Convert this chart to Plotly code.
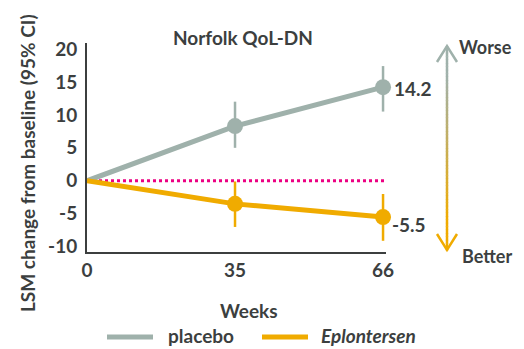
import plotly.graph_objects as go

# ---- data ----
weeks = ["0", "35", "66"]
placebo = [0, 8.3, 14.2]
placebo_hi = [0, 12.0, 17.4]
placebo_lo = [0, 5.0, 10.5]
eplon = [0, -3.5, -5.5]
eplon_hi = [0, -0.1, -2.0]
eplon_lo = [0, -7.0, -9.1]
y_ticks = [20, 15, 10, 5, 0, -5, -10]

GREY = "#9fb1ab"
GOLD = "#f0ab00"
MAG = "#ec0082"
DARK = "#3c3f3f"
FONT = "Lato"
FS = 19

OFF = 8  # page body margin
W, H = 524 - OFF, 349 - OFF
# screen-pixel plot box
SL, SR, ST, SB = 87, 386, 43, 252
L, R, T, B = SL - OFF, SR - OFF, ST - OFF, SB - OFF


def px(x):
    return (x - SL) / (SR - SL)


def py(y):
    return (SB - y) / (SB - ST)


xi = list(range(len(weeks)))

fig = go.Figure()

# reference dotted line at 0
fig.add_trace(go.Scatter(x=[xi[0], 2.02], y=[0, 0], mode="lines",
                         line=dict(color=MAG, width=3, dash="3px,3px"),
                         showlegend=False, hoverinfo="skip", cliponaxis=False))


def series(vals, hi, lo, color, name):
    fig.add_trace(go.Scatter(x=xi, y=vals, mode="lines", line=dict(color=color, width=5),
                             name=name, showlegend=False, cliponaxis=False))
    fig.add_trace(go.Scatter(
        x=xi[1:], y=vals[1:], mode="markers",
        marker=dict(color=color, size=16),
        error_y=dict(type="data", symmetric=False,
                     array=[h - v for h, v in zip(hi[1:], vals[1:])],
                     arrayminus=[v - l for l, v in zip(lo[1:], vals[1:])],
                     color=color, thickness=2.5, width=0),
        showlegend=False, cliponaxis=False))


series(placebo, placebo_hi, placebo_lo, GREY, "placebo")
series(eplon, eplon_hi, eplon_lo, GOLD, "Eplontersen")


def txt(x, y, s, anchor="center", size=FS, **kw):
    d = dict(x=px(x), y=py(y), text=s, xref="paper", yref="paper", showarrow=False,
             xanchor=anchor, yanchor="middle", font=dict(family=FONT, size=size, color=DARK))
    d.update(kw)
    return d


annotations = []
# end labels
annotations.append(dict(x=xi[-1], y=placebo[-1], text="<b>%.1f</b>" % placebo[-1], xref="x", yref="y",
                        showarrow=False, xanchor="left", xshift=9, yshift=-1,
                        font=dict(family=FONT, size=FS, color=DARK)))
annotations.append(dict(x=xi[-1], y=eplon[-1], text="<b>%.1f</b>" % eplon[-1], xref="x", yref="y",
                        showarrow=False, xanchor="left", xshift=7, yshift=-7,
                        font=dict(family=FONT, size=FS, color=DARK)))
annotations.append(txt(243, 37, "<b>Norfolk QoL-DN</b>"))
annotations.append(txt(514, 47, "<b>Worse</b>", "right", size=18))
annotations.append(txt(514, 256, "<b>Better</b>", "right", size=18))
annotations.append(txt(249, 310, "<b>Weeks</b>"))
annotations.append(txt(27, 163, "<b>LSM change from baseline (95% CI)</b>", textangle=-90))
annotations.append(txt(166, 335, "<b>placebo</b>", "left"))
annotations.append(txt(319, 335, "<b><i>Eplontersen</i></b>", "left"))

shapes = []
# legend lines
shapes.append(dict(type="line", xref="paper", yref="paper", x0=px(107), x1=px(153), y0=py(337), y1=py(337),
                   line=dict(color=GREY, width=5)))
shapes.append(dict(type="line", xref="paper", yref="paper", x0=px(262), x1=px(308), y0=py(337), y1=py(337),
                   line=dict(color=GOLD, width=5)))

# gradient arrow
ax = 447
top, bot = 46, 250
c0 = (0x9f, 0xb1, 0xab)
c1 = (0xf0, 0xab, 0x00)
n = 60
for i in range(n):
    y0 = top + (bot - top) * i / n
    y1 = top + (bot - top) * (i + 1) / n + 0.5
    t = (i + 0.5) / n
    t = min(max((t - 0.15) / 0.7, 0), 1)
    c = tuple(int(round(a + (b - a) * t)) for a, b in zip(c0, c1))
    shapes.append(dict(type="line", xref="paper", yref="paper", x0=px(ax), x1=px(ax), y0=py(y0), y1=py(y1),
                       line=dict(color="rgb(%d,%d,%d)" % c, width=2.5)))
shapes.append(dict(type="path", xref="paper", yref="paper",
                   path="M %f %f L %f %f L %f %f" % (px(ax - 10), py(top + 16), px(ax), py(top), px(ax + 10), py(top + 16)),
                   line=dict(color="rgb(%d,%d,%d)" % c0, width=2.5)))
shapes.append(dict(type="path", xref="paper", yref="paper",
                   path="M %f %f L %f %f L %f %f" % (px(ax - 10), py(bot - 16), px(ax), py(bot), px(ax + 10), py(bot - 16)),
                   line=dict(color="rgb(%d,%d,%d)" % c1, width=2.5)))

fig.update_layout(
    width=W, height=H,
    margin=dict(l=L, r=W - R, t=T, b=H - B, pad=0),
    plot_bgcolor="white", paper_bgcolor="white",
    showlegend=False,
    annotations=annotations, shapes=shapes,
    font=dict(family=FONT, size=FS, color=DARK),
    xaxis=dict(range=[0, 2.02], tickvals=xi, ticktext=["<b>%s</b>" % w for w in weeks],
               showgrid=False, zeroline=False, showline=True, linecolor=DARK, linewidth=2,
               ticks="", ticklen=0, ticklabelstandoff=0,
               tickfont=dict(family=FONT, size=FS, color=DARK)),
    yaxis=dict(range=[-10.8, 20.9], tickvals=y_ticks, ticktext=["<b>%d</b>" % v for v in y_ticks],
               showgrid=False, zeroline=False, showline=True, linecolor=DARK, linewidth=2,
               ticks="", ticklen=0, ticklabelstandoff=4,
               tickfont=dict(family=FONT, size=FS, color=DARK)),
)

fig.write_html("out.html")
